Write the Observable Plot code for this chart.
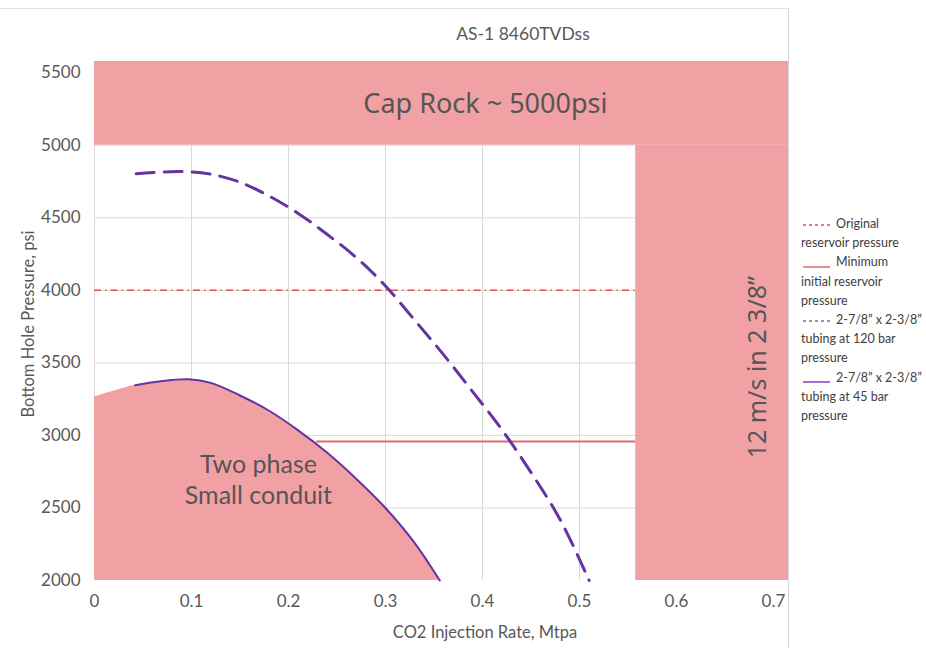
<!DOCTYPE html>
<html>
<head>
<meta charset="utf-8">
<script src="https://cdn.jsdelivr.net/npm/d3@7"></script>
<script src="https://cdn.jsdelivr.net/npm/@observablehq/plot@0.6"></script>
<style>
  html, body { margin: 0; padding: 0; background: #fff; }
  #wrap { position: relative; width: 926px; height: 648px; overflow: hidden; font-family: Lato, "Open Sans", sans-serif; }
  #chart { position: absolute; left: 0; top: 0; }
  .abs { position: absolute; white-space: nowrap; color: #595959; }
  #legend { position: absolute; left: 801px; top: 214px; font-size: 12.5px; line-height: 19.2px; color: #404040; font-family: Lato, sans-serif; }
  #legend svg { vertical-align: middle; margin-right: 5px; }
  #frameTop { position: absolute; left: 0; top: 8px; width: 789px; height: 1px; background: #e4e4e4; }
  #frameRight { position: absolute; left: 788px; top: 8px; width: 1px; height: 640px; background: #d4d4d4; }
</style>
</head>
<body>
<div id="wrap">
  <div id="frameTop"></div>
  <div id="chart"></div>
  <div id="frameRight"></div>
  <div class="abs" id="title" style="left:523px; top:33px; transform:translate(-50%,-50%); font-size:17.5px;">AS-1 8460TVDss</div>
  <div class="abs" id="xlabel" style="left:485px; top:632px; transform:translate(-50%,-50%); font-size:16.5px;">CO2 Injection Rate, Mtpa</div>
  <div class="abs" id="ylabel" style="left:28px; top:324px; transform:translate(-50%,-50%) rotate(-90deg); font-size:16.5px;">Bottom Hole Pressure, psi</div>
  <div id="legend"></div>
</div>
<script>
// ---- data ----
const xTicks = [0, 0.1, 0.2, 0.3, 0.4, 0.5, 0.6, 0.7];
const yTicks = [2000, 2500, 3000, 3500, 4000, 4500, 5000, 5500];

// 2-7/8" x 2-3/8" tubing at 120 bar (dashed)
const tubing120X = [0.043, 0.07, 0.095, 0.12, 0.15, 0.18, 0.21, 0.24, 0.27, 0.30, 0.33, 0.36, 0.39, 0.42, 0.45, 0.48, 0.51];
const tubing120Y = [4803, 4815, 4818, 4800, 4745, 4650, 4530, 4385, 4225, 4030, 3795, 3555, 3300, 3040, 2745, 2420, 2000];

// 2-7/8" x 2-3/8" tubing at 45 bar (solid)
const tubing45X = [0.042, 0.07, 0.097, 0.12, 0.15, 0.18, 0.21, 0.24, 0.27, 0.30, 0.33, 0.356];
const tubing45Y = [3346, 3375, 3387, 3362, 3275, 3170, 3035, 2880, 2700, 2500, 2260, 2000];

// two-phase region boundary
const twoPhaseX = [0, 0.042, 0.07, 0.097, 0.12, 0.15, 0.18, 0.21, 0.24, 0.27, 0.30, 0.33, 0.356];
const twoPhaseY = [3265, 3346, 3375, 3387, 3362, 3275, 3170, 3035, 2880, 2700, 2500, 2260, 2000];

// reference pressures
const originalPressure = 4000;
const minInitialPressure = 2958;
const minPressureStartX = 0.229;
const velocityLimitX = 0.558;
const capRockPressure = 5000;
const xMax = 0.7155;
const yMin = 2000, yMax = 5577;

// annotation labels
const labels = [
  {text: "Cap Rock ~ 5000psi", x: 0.403, y: 5285, rotate: 0, size: 27, font: "'Noto Sans', sans-serif"},
  {text: "Two phase", x: 0.169, y: 2795, rotate: 0, size: 25, font: "Lato, sans-serif"},
  {text: "Small conduit", x: 0.169, y: 2580, rotate: 0, size: 25, font: "Lato, sans-serif"},
  {text: "12 m/s in 2 3/8\u201D", x: 0.684, y: 3470, rotate: -90, size: 25, font: "'Noto Sans', sans-serif"}
];

// ---- derived tables ----
const t120 = tubing120X.map((x, i) => ({x, y: tubing120Y[i]}));
const t45 = tubing45X.map((x, i) => ({x, y: tubing45Y[i]}));
const tp = twoPhaseX.map((x, i) => ({x, y: twoPhaseY[i]}));
const zones = [
  {x1: 0, x2: xMax, y1: capRockPressure, y2: yMax},
  {x1: velocityLimitX, x2: xMax, y1: yMin, y2: capRockPressure}
];
const pink = "#f1a1a4";
const purple = "#6534a2";

const chart = Plot.plot({
  width: 790,
  height: 648,
  marginLeft: 94,
  marginRight: 2,
  marginTop: 61,
  marginBottom: 68,
  style: {fontFamily: "Lato, 'Open Sans', sans-serif", fontSize: "17px", color: "#595959", background: "transparent"},
  x: {domain: [0, xMax]},
  y: {domain: [yMin, yMax]},
  marks: [
    Plot.gridX(xTicks, {stroke: "#d9d9d9", strokeOpacity: 1}),
    Plot.gridY(yTicks.filter(d => d > 2000), {stroke: "#d9d9d9", strokeOpacity: 1}),
    Plot.areaY(tp, {x: "x", y1: yMin, y2: "y", fill: pink, curve: "catmull-rom"}),
    Plot.rect(zones, {x1: "x1", x2: "x2", y1: "y1", y2: "y2", fill: pink}),
    Plot.ruleY([originalPressure], {x1: 0, x2: velocityLimitX, stroke: "#e0504f", strokeWidth: 1.5, strokeDasharray: "7,4,1.5,4"}),
    Plot.ruleY([minInitialPressure], {x1: minPressureStartX, x2: velocityLimitX, stroke: "#e8676a", strokeWidth: 2}),
    Plot.line(t45, {x: "x", y: "y", stroke: purple, strokeWidth: 2, curve: "catmull-rom"}),
    Plot.line(t120, {x: "x", y: "y", stroke: purple, strokeWidth: 3, strokeDasharray: "18,10", curve: "catmull-rom"}),
    Plot.text(labels, {x: "x", y: "y", text: "text", rotate: "rotate", fontSize: d => d.size, fill: "#555", lineHeight: 1.0}),
    Plot.axisX(xTicks, {tickSize: 0, tickPadding: 14, tickFormat: d => String(+d.toFixed(1)), label: null, fill: "#595959"}),
    Plot.axisY(yTicks, {tickSize: 0, tickPadding: 14, tickFormat: d => String(d), label: null, fill: "#595959"})
  ]
});
chart.querySelectorAll("text").forEach(t => {
  const lab = labels.find(l => l.text === t.textContent);
  if (lab) t.setAttribute("font-family", lab.font);
});
document.getElementById("chart").appendChild(chart);

// ---- legend ----
const legendItems = [
  {color: "#e0504f", dash: "3,3", width: 1.5, lines: ["Original", "reservoir pressure"]},
  {color: "#e8676a", dash: null, width: 1.5, lines: ["Minimum", "initial reservoir", "pressure"]},
  {color: "#7b63b8", dash: "3,3", width: 1.5, lines: ["2-7/8\u201D x 2-3/8\u201D", "tubing at 120 bar", "pressure"]},
  {color: "#a070d0", dash: null, width: 2, lines: ["2-7/8\u201D x 2-3/8\u201D", "tubing at 45 bar", "pressure"]}
];
const lg = d3.select("#legend");
legendItems.forEach(item => {
  item.lines.forEach((line, i) => {
    const row = lg.append("div");
    if (i === 0) {
      const s = row.append("svg").attr("width", 30).attr("height", 10);
      s.append("line").attr("x1", 2).attr("x2", 29).attr("y1", item.dash ? 5 : 9).attr("y2", item.dash ? 5 : 9)
        .attr("stroke", item.color).attr("stroke-width", item.width)
        .attr("stroke-dasharray", item.dash);
    }
    row.append("span").text(line);
  });
});
</script>
</body>
</html>
